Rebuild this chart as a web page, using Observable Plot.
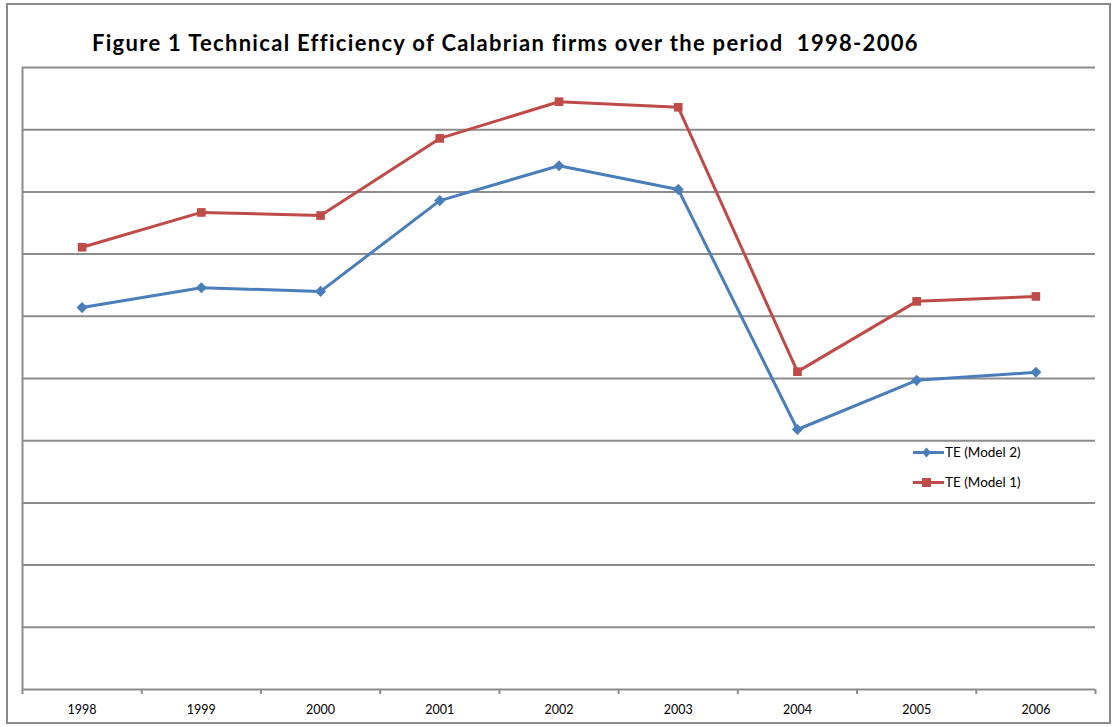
<!DOCTYPE html>
<html>
<head>
<meta charset="utf-8">
<script src="https://cdn.jsdelivr.net/npm/d3@7"></script>
<script src="https://cdn.jsdelivr.net/npm/@observablehq/plot@0.6"></script>
<style>
  html, body { margin: 0; padding: 0; background: #fff; }
  #wrap { position: relative; width: 1113px; height: 727px; overflow: hidden; font-family: Lato, "Open Sans", sans-serif; }
  #frame { position: absolute; left: 6px; top: 3px; width: 1101px; height: 717px; border: 2px solid #8a8a8a; box-sizing: content-box; pointer-events: none; }
  #title { position: absolute; left: 92px; top: 29px; font-size: 22px; letter-spacing: 1.3px; font-weight: bold; color: #000; white-space: pre; }
  #chart { position: absolute; left: 0; top: 0; }
  #legend { position: absolute; left: 910px; top: 437px; font-size: 13.5px; color: #000; }
  .lg { display: flex; align-items: center; height: 30px; }
  .lg svg { margin-right: 1px; }
</style>
</head>
<body>
<div id="wrap">
  <div id="chart"></div>
  <div id="frame"></div>
  <div id="title">Figure 1 Technical Efficiency of Calabrian firms over the period  1998-2006</div>
  <div id="legend"></div>
</div>
<script>
const years = [1998, 1999, 2000, 2001, 2002, 2003, 2004, 2005, 2006];
const model2 = [0.614, 0.646, 0.640, 0.786, 0.842, 0.804, 0.418, 0.497, 0.510];
const model1 = [0.711, 0.767, 0.762, 0.886, 0.945, 0.936, 0.511, 0.624, 0.632];
const seriesNames = ["TE (Model 2)", "TE (Model 1)"];
const colors = ["#4A7EBB", "#BE4B48"];
const yTicks = [0, 0.1, 0.2, 0.3, 0.4, 0.5, 0.6, 0.7, 0.8, 0.9, 1.0];

const d2 = years.map((y, i) => ({year: y, v: model2[i]}));
const d1 = years.map((y, i) => ({year: y, v: model1[i]}));
const boundaries = [...years.map(y => y - 0.5), years[years.length - 1] + 0.5];

const plot = Plot.plot({
  width: 1113,
  height: 727,
  marginLeft: 22,
  marginRight: 18,
  marginTop: 67,
  marginBottom: 38,
  style: {fontFamily: "Lato, 'Open Sans', sans-serif", background: "transparent"},
  x: {domain: [1997.5, 2006.5], axis: null, label: null},
  y: {domain: [0, 1], axis: null, label: null},
  marks: [
    Plot.gridY(yTicks, {stroke: "#8c8c8c", strokeOpacity: 1, strokeWidth: 2}),
    Plot.ruleX([1997.5], {y1: 0, y2: 1, stroke: "#8c8c8c", strokeWidth: 2}),
    Plot.axisX({ticks: boundaries, tickFormat: () => "", tickSize: 5, stroke: "#8c8c8c", strokeWidth: 2, anchor: "bottom", label: null}),
    Plot.axisX({ticks: years, tickFormat: d => String(d), tickSize: 0, tickPadding: 16, fontSize: 12.5, fill: "#000", anchor: "bottom", label: null}),
    Plot.line(d2, {x: "year", y: "v", stroke: colors[0], strokeWidth: 3}),
    Plot.dot(d2, {x: "year", y: "v", symbol: "diamond2", r: 5, fill: colors[0], stroke: null}),
    Plot.line(d1, {x: "year", y: "v", stroke: colors[1], strokeWidth: 3}),
    Plot.dot(d1, {x: "year", y: "v", symbol: "square2", r: 5.5, fill: colors[1], stroke: null})
  ]
});
document.getElementById("chart").appendChild(plot);

const legend = document.getElementById("legend");
seriesNames.forEach((name, i) => {
  const row = document.createElement("div");
  row.className = "lg";
  const isSquare = i === 1;
  const marker = isSquare
    ? `<rect x="12" y="4" width="9" height="9" fill="${colors[i]}"/>`
    : `<path d="M16.5,3.5 L21,8.5 L16.5,13.5 L12,8.5 Z" fill="${colors[i]}"/>`;
  row.innerHTML = `<svg width="34" height="17"><line x1="3" y1="8.5" x2="34" y2="8.5" stroke="${colors[i]}" stroke-width="3"/>${marker}</svg><span>${name}</span>`;
  legend.appendChild(row);
});
</script>
</body>
</html>
